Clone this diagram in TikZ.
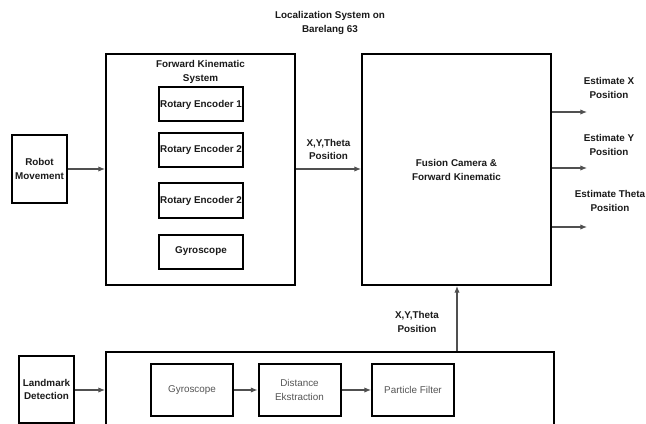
\documentclass[tikz,border=0pt]{standalone}
\usepackage{fontspec}
\setmainfont{Liberation Sans}
\usetikzlibrary{calc, arrows.meta}

\begin{document}
\begin{tikzpicture}[x=0.75pt, y=-0.75pt,
    every node/.style={font=\fontsize{7.4}{10}\selectfont, align=center},
    box/.style={draw=black, line width=1.5pt, fill=white, inner sep=0pt},
    lbl/.style={text=labelColour, font=\fontsize{7.4}{10}\selectfont\bfseries},
    thin lbl/.style={text=greyText},
    link/.style={draw=lineColour, line width=0.8pt, -{Latex[length=5pt, width=4pt]}}]
    % Define colours
    \definecolor{labelColour}{HTML}{1A1A1A}
    \definecolor{greyText}{HTML}{555555}
    \definecolor{lineColour}{HTML}{505050}

    % Define pixel size
    \def\px{0.75pt}

  % Fix the canvas
  \useasboundingbox (0,0) rectangle (646,424);
  \clip (0,0) rectangle (646,424);

  % Title
  \node[lbl] (title) at (330,23) {Localization System on\\Barelang 63};

  % Forward kinematic side
  \node[box, minimum width=55*\px, minimum height=68*\px] (robot) at (39.5,169) {};
  \node[lbl] at (robot) {Robot\\Movement};
  \node[box, minimum width=189*\px, minimum height=231*\px] (fk) at (200.5,169.5) {};
  \node[lbl] (fktitle) at (200.5,72) {Forward Kinematic\\System};
  \node[box, lbl, minimum width=84*\px, minimum height=34*\px] (enc1) at (201,104.5) {Rotary Encoder 1};
  \node[box, lbl, minimum width=84*\px, minimum height=34*\px] (enc2) at (201,150) {Rotary Encoder 2};
  \node[box, lbl, minimum width=84*\px, minimum height=34*\px] (enc3) at (201,200.5) {Rotary Encoder 2};
  \node[box, lbl, minimum width=84*\px, minimum height=34*\px] (gyro) at (201,251.5) {Gyroscope};

  % Fusion block
  \node[box, minimum width=189*\px, minimum height=231*\px] (fusion) at (456.5,169.5) {};
  \node[lbl] at (456.5,170) {Fusion Camera \&\\Forward Kinematic};

  % Outputs
  \coordinate (outX) at (587,112);
  \coordinate (outY) at (587,168);
  \coordinate (outT) at (587,227);
  \node[lbl] (estX) at (609,88) {Estimate X\\Position};
  \node[lbl] (estY) at (609,145) {Estimate Y\\Position};
  \node[lbl] (estT) at (610,201) {Estimate Theta\\Position};

  % Camera side
  \node[box, minimum width=55*\px, minimum height=67*\px] (landmark) at (46.5,389.5) {};
  \node[lbl] at (landmark) {Landmark\\Detection};
  \node[box, minimum width=448*\px, minimum height=140*\px] (camera) at (330,422) {};
  \node[box, thin lbl, minimum width=82*\px, minimum height=52*\px] (gyro2) at (192,390) {Gyroscope};
  \node[box, thin lbl, minimum width=82*\px, minimum height=52*\px] (dist) at (299.5,390) {Distance\\Ekstraction};
  \node[box, thin lbl, minimum width=82*\px, minimum height=52*\px] (pf) at (413,390) {Particle Filter};

  % Connectors
  \draw[link] (robot.east) -- (robot.east -| fk.west);
  \draw[link] (fk.east |- 0,169) -- (fusion.west |- 0,169)
    node[lbl, midway, above=3pt] {X,Y,Theta\\Position};
  \draw[link] (fusion.east |- outX) -- (outX);
  \draw[link] (fusion.east |- outY) -- (outY);
  \draw[link] (fusion.east |- outT) -- (outT);
  \draw[link] (landmark.east |- 0,390) -- (camera.west |- 0,390);
  \draw[link] (gyro2) -- (dist);
  \draw[link] (dist) -- (pf);
  \draw[link] (camera.north -| 457,0) -- (fusion.south -| 457,0);
  \node[lbl] (camlabel) at (417,322) {X,Y,Theta\\Position};

\end{tikzpicture}
\end{document}
